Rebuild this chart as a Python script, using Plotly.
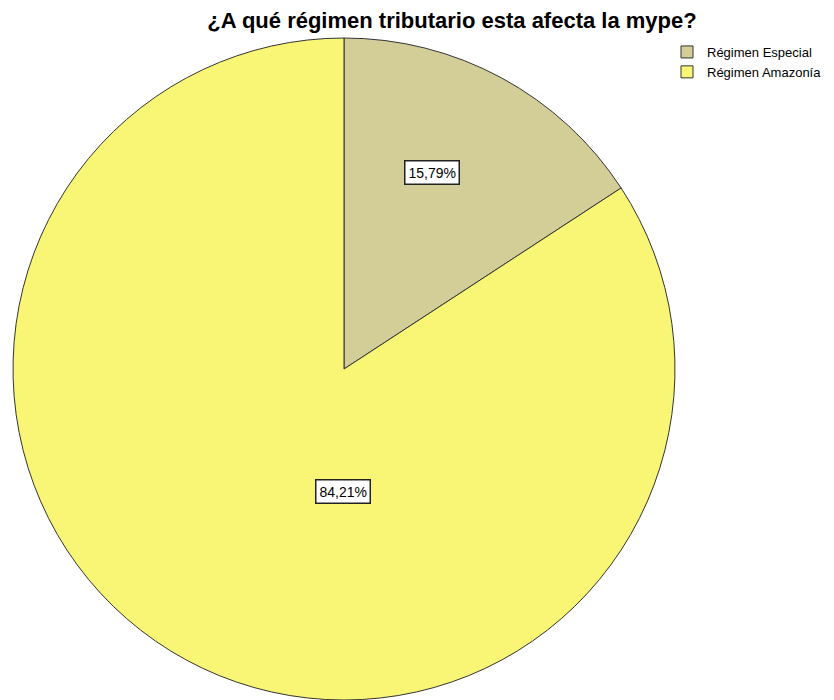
import plotly.graph_objects as go

labels = ["Régimen Especial", "Régimen Amazonía"]
values = [15.79, 84.21]
pct_text = ["15,79%", "84,21%"]
colors = ["#D3CE98", "#FAF675"]
title = "¿A qué régimen tributario esta afecta la mype?"

W, H = 834, 700
dom_x = [12 / W, 676 / W]
dom_y = [0.0, (H - 38) / H]

fig = go.Figure()
fig.add_trace(go.Pie(
    labels=labels, values=values, sort=False, direction="clockwise", rotation=0,
    marker=dict(colors=colors, line=dict(color="#333333", width=1)),
    textinfo="none", hoverinfo="label+percent",
    domain=dict(x=dom_x, y=dom_y),
))

cx = (dom_x[0] + dom_x[1]) / 2
cy = (dom_y[0] + dom_y[1]) / 2
label_pos = [(88, 196), (-1, -122)]  # px offsets (right, up) from pie center
for t, (dx, dy) in zip(pct_text, label_pos):
    fig.add_annotation(
        x=cx + dx / W, y=cy + dy / H, xref="paper", yref="paper",
        xanchor="center", yanchor="middle",
        text=t, showarrow=False, font=dict(family="Liberation Sans, Arial", size=14, color="#000"),
        bgcolor="white", bordercolor="#222222", borderwidth=1.5, borderpad=3,
    )

fig.update_layout(
    width=W, height=H, margin=dict(l=0, r=0, t=0, b=0),
    paper_bgcolor="white", plot_bgcolor="white",
    title=dict(text="<b>" + title + "</b>", x=452 / W, xanchor="center", y=1 - 20 / H, yanchor="middle",
               font=dict(family="Liberation Sans, Arial", size=22, color="#000")),
    legend=dict(x=667 / W, y=1 - 37 / H, xanchor="left", yanchor="top",
                font=dict(family="Liberation Sans, Arial", size=13, color="#000"),
                itemwidth=30, tracegroupgap=0, bgcolor="rgba(0,0,0,0)"),
)
fig.write_html("out.html")
